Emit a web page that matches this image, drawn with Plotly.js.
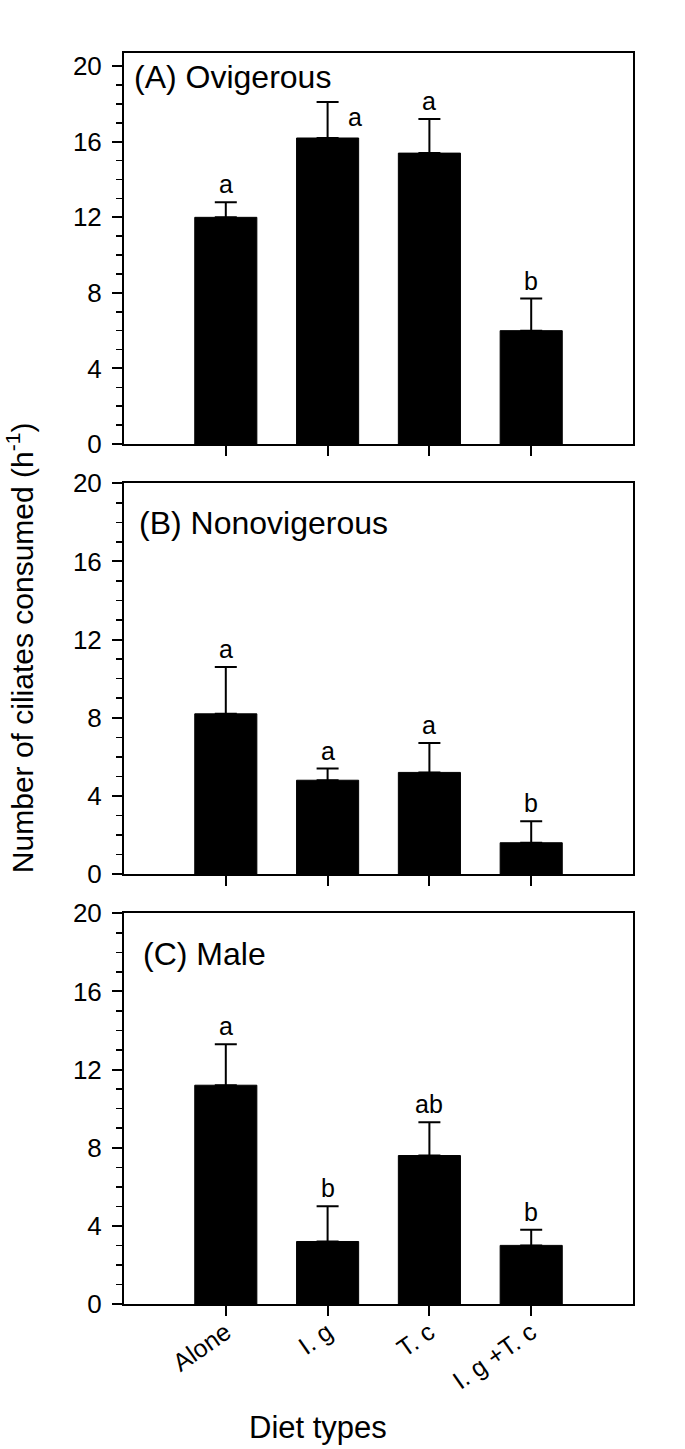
<!DOCTYPE html>
<html>
<head>
<meta charset="utf-8">
<script src="https://cdn.plot.ly/plotly-3.0.1.min.js"></script>
<style>
  html, body { margin: 0; padding: 0; background: #fff; }
  #chart { width: 685px; height: 1449px; }
</style>
</head>
<body>
<div id="chart"></div>
<script>
// ---- data ----
const categories = ['Alone', 'I. g', 'T. c', 'I. g +T. c'];

const meansA = [12.0, 16.2, 15.4, 6.0];
const seA    = [0.8, 1.9, 1.8, 1.7];
const lettersA = ['a', 'a', 'a', 'b'];

const meansB = [8.2, 4.8, 5.2, 1.6];
const seB    = [2.4, 0.6, 1.5, 1.1];
const lettersB = ['a', 'a', 'a', 'b'];

const meansC = [11.2, 3.2, 7.6, 3.0];
const seC    = [2.1, 1.8, 1.7, 0.8];
const lettersC = ['a', 'b', 'ab', 'b'];

const panelTitles = ['(A) Ovigerous', '(B) Nonovigerous', '(C) Male'];
const yTicks = [0, 4, 8, 12, 16, 20];
const yTitle = 'Number of ciliates consumed (h<sup>-1</sup>)';
const xTitle = 'Diet types';

// ---- build ----
const FONT = 'Liberation Sans, Arial, Helvetica, sans-serif';
const panels = [
  {means: meansA, se: seA, letters: lettersA, xa: 'x',  ya: 'y',  yr: [0, 20.7]},
  {means: meansB, se: seB, letters: lettersB, xa: 'x2', ya: 'y2', yr: [0, 20]},
  {means: meansC, se: seC, letters: lettersC, xa: 'x3', ya: 'y3', yr: [0, 20]}
];

const traces = panels.map(p => ({
  type: 'bar',
  x: categories,
  y: p.means,
  xaxis: p.xa,
  yaxis: p.ya,
  width: 0.61,
  marker: {color: '#000', line: {color: '#000', width: 1}},
  error_y: {
    type: 'data', symmetric: false,
    array: p.se, arrayminus: p.se.map(() => 0),
    color: '#000', thickness: 2, width: 11
  },
  hoverinfo: 'none',
  showlegend: false
}));

function xAxis(anchor, labels) {
  return {
    anchor: anchor, domain: [0, 1], type: 'category',
    range: [-1, 4],
    showline: true, mirror: true, linecolor: '#000', linewidth: 2,
    ticks: 'outside', ticklen: 10, tickwidth: 2, tickcolor: '#000',
    showgrid: false, zeroline: false,
    showticklabels: labels, tickangle: -35, ticklabelstandoff: -8,
    tickfont: {family: FONT, size: 25, color: '#000'}
  };
}
function yAxis(anchor, domain, range) {
  return {
    anchor: anchor, domain: domain, range: range,
    tickmode: 'array', tickvals: yTicks, ticktext: yTicks.map(String),
    showline: true, mirror: true, linecolor: '#000', linewidth: 2,
    ticks: 'outside', ticklen: 10, tickwidth: 2, tickcolor: '#000',
    ticklabelstandoff: 5,
    minor: {dtick: 1, tick0: 0, ticks: 'outside', ticklen: 6, tickwidth: 1.5, tickcolor: '#000', showgrid: false},
    showgrid: false, zeroline: false,
    tickfont: {family: FONT, size: 26, color: '#000'}
  };
}

const annotations = [];
const titlePos = [[0.016, 0.939], [0.026, 0.899], [0.033, 0.895]];
panels.forEach((p, i) => {
  const xd = p.xa + ' domain';
  const yd = p.ya + ' domain';
  annotations.push({
    text: panelTitles[i], xref: xd, yref: yd,
    x: titlePos[i][0], y: titlePos[i][1], xanchor: 'left', yanchor: 'middle',
    showarrow: false, font: {family: FONT, size: 32, color: '#000'}
  });
  p.letters.forEach((L, j) => {
    const side = (i === 0 && j === 1);
    annotations.push({
      text: L, xref: p.xa, yref: p.ya,
      x: categories[j], y: side ? p.means[j] : p.means[j] + p.se[j],
      xanchor: 'center', yanchor: 'bottom',
      xshift: side ? 27 : 0, yshift: side ? 5 : 2,
      showarrow: false, font: {family: FONT, size: 25, color: '#000'}
    });
  });
});
annotations.push({
  text: yTitle, xref: 'paper', yref: 'paper', x: -0.204, y: 0.5244,
  xanchor: 'center', yanchor: 'middle', textangle: -90, showarrow: false,
  font: {family: FONT, size: 30, color: '#000'}
});
annotations.push({
  text: xTitle, xref: 'paper', yref: 'paper', x: 0.381, y: -0.099,
  xanchor: 'center', yanchor: 'middle', showarrow: false,
  font: {family: FONT, size: 31, color: '#000'}
});

const layout = {
  width: 685, height: 1449,
  margin: {l: 124, r: 52, t: 53, b: 145, pad: 0},
  paper_bgcolor: '#fff', plot_bgcolor: '#fff',
  showlegend: false,
  xaxis: xAxis('y', false),
  xaxis2: xAxis('y2', false),
  xaxis3: xAxis('y3', true),
  yaxis: yAxis('x', [0.68745, 1.0], panels[0].yr),
  yaxis2: yAxis('x2', [0.34373, 0.65603], panels[1].yr),
  yaxis3: yAxis('x3', [0, 0.31231], panels[2].yr),
  annotations: annotations,
  font: {family: FONT, color: '#000'}
};

Plotly.newPlot('chart', traces, layout, {staticPlot: true, displayModeBar: false});
</script>
</body>
</html>
